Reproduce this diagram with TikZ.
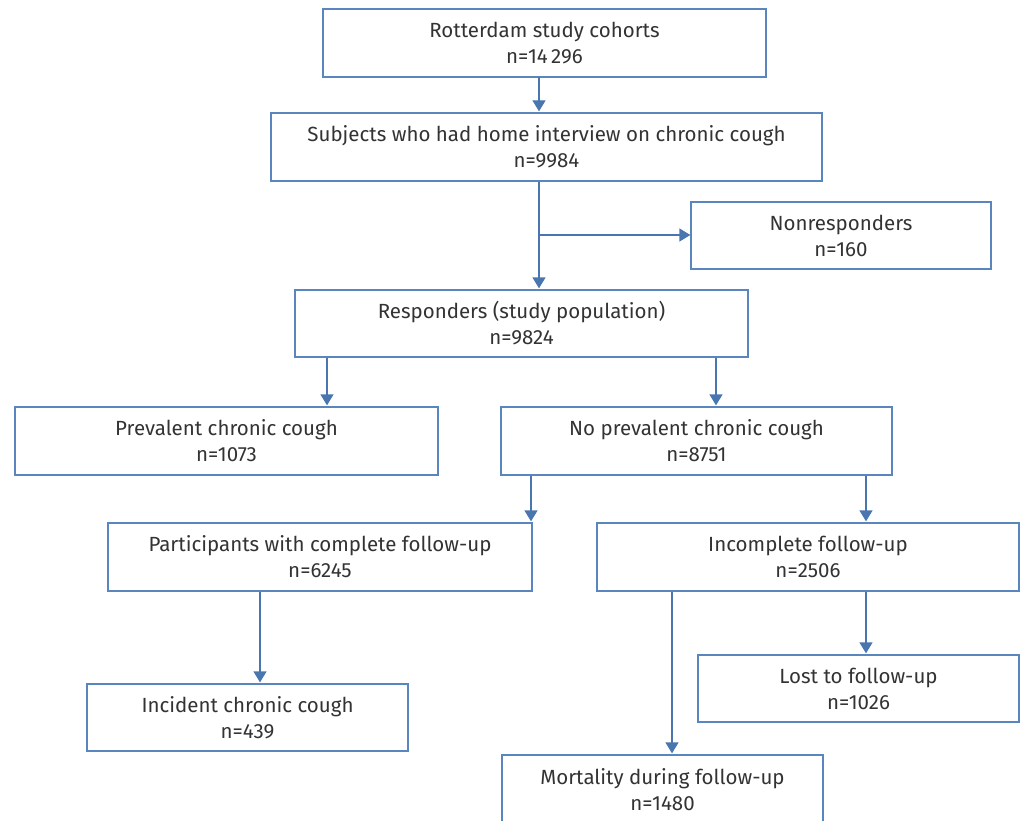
\documentclass[tikz,border=0pt]{standalone}
\usepackage{fontspec}
\setmainfont{Fira Sans}
\usetikzlibrary{arrows.meta}
\definecolor{boxblue}{HTML}{5A86BF}
\definecolor{arrblue}{HTML}{4A76B0}
\definecolor{txt}{HTML}{333333}
\tikzset{
  box/.style={draw=boxblue, line width=1.3pt, fill=white, align=center, text=txt,
    font=\fontsize{20.5}{26}\selectfont, inner sep=0pt},
  arr/.style={draw=arrblue, line width=1.3pt, -{Triangle[width=13pt,length=11pt]}},
  ln/.style={draw=arrblue, line width=1.3pt}
}
\begin{document}
\begin{tikzpicture}[x=1pt,y=-1pt]
\useasboundingbox (0,0) rectangle (1022,821);
\clip (0,0) rectangle (1022,821);
\node[box, minimum width=443, minimum height=68] (rot) at (544.5,43) {Rotterdam study cohorts\\n=14\,296};
\node[box, minimum width=551, minimum height=68] (subj) at (546.5,147) {Subjects who had home interview on chronic cough\\n=9984};
\node[box, minimum width=300, minimum height=67] (non) at (841,235.5) {Nonresponders\\n=160};
\node[box, minimum width=453, minimum height=67] (resp) at (521.5,323.5) {Responders (study population)\\n=9824};
\node[box, minimum width=423, minimum height=68] (prev) at (226.5,441) {Prevalent chronic cough\\n=1073};
\node[box, minimum width=391, minimum height=68] (noprev) at (696.5,441) {No prevalent chronic cough\\n=8751};
\node[box, minimum width=424, minimum height=68] (part) at (320,557) {Participants with complete follow-up\\n=6245};
\node[box, minimum width=422, minimum height=68] (inc) at (808,557) {Incomplete follow-up\\n=2506};
\node[box, minimum width=321, minimum height=67] (lost) at (858.5,688.5) {Lost to follow-up\\n=1026};
\node[box, minimum width=321, minimum height=67] (incid) at (247.5,717.5) {Incident chronic cough\\n=439};
\node[box, minimum width=321, minimum height=68, text depth=0pt] (mort) at (662.5,789) {Mortality during follow-up\\n=1480};
\draw[arr] ([yshift=1pt]rot.south -| 539,0) -- ([yshift=1pt]subj.north -| 539,0);
\draw[arr] (subj.south -| 539,0) -- ([yshift=1pt]resp.north -| 539,0);
\draw[arr] (539,235) coordinate (br) -- (non.west |- br);
\draw[arr] (resp.south -| 327,0) -- ([yshift=1pt]prev.north -| 327,0);
\draw[arr] (resp.south -| 716,0) -- ([yshift=1pt]noprev.north -| 716,0);
\draw[arr] (noprev.south -| 531,0) -- ([yshift=1pt]part.north -| 531,0);
\draw[arr] (noprev.south -| 866,0) -- ([yshift=1pt]inc.north -| 866,0);
\draw[arr] (part.south -| 260,0) -- ([yshift=1pt]incid.north -| 260,0);
\draw[arr] (inc.south -| 866,0) -- ([yshift=1pt]lost.north -| 866,0);
\draw[arr] (inc.south -| 672,0) -- ([yshift=1pt]mort.north -| 672,0);
\end{tikzpicture}
\end{document}
